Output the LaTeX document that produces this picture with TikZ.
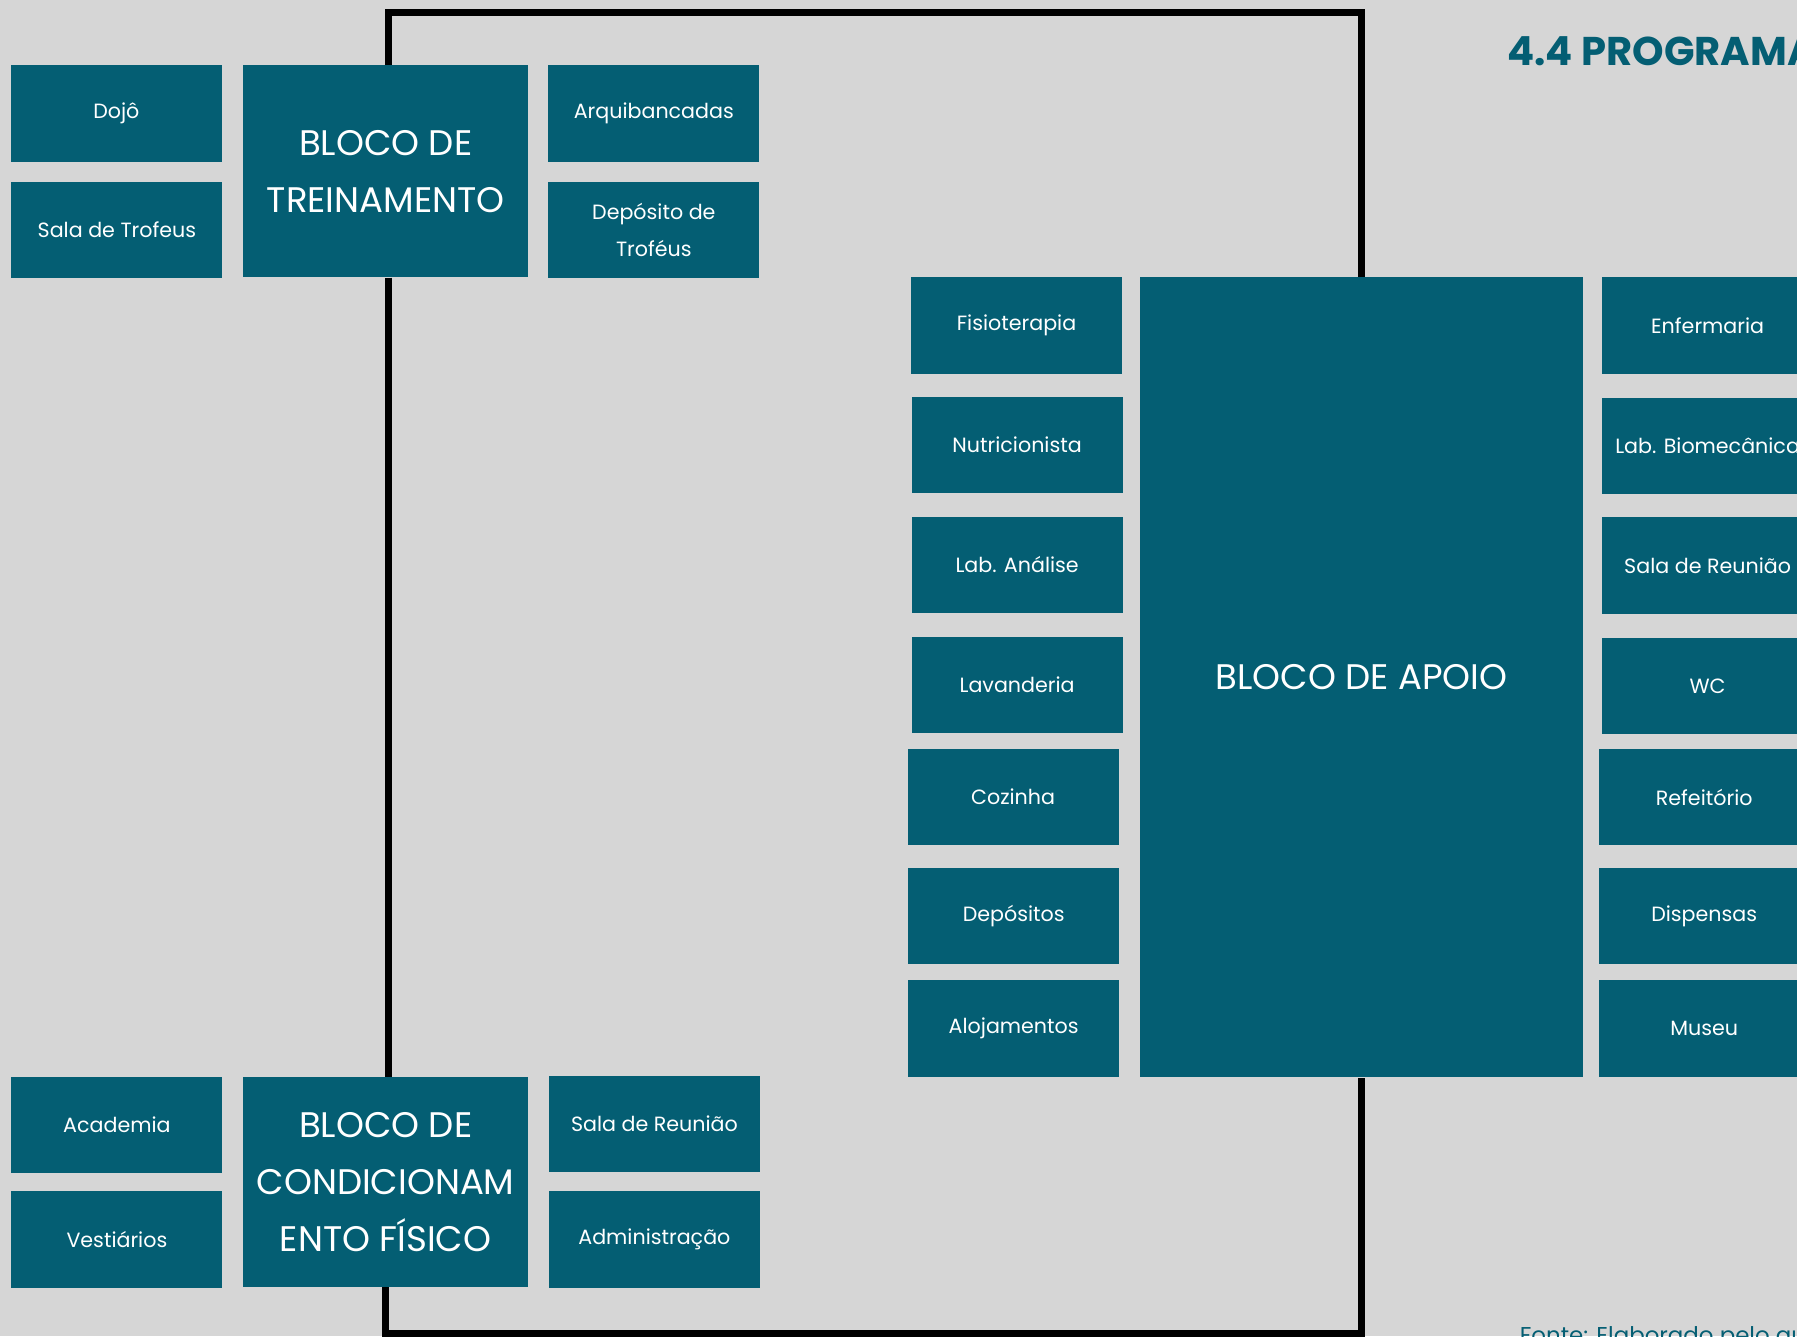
\documentclass[tikz,border=0pt]{standalone}
\usepackage{fontspec}
\setmainfont{Poppins}
\usetikzlibrary{positioning}
\definecolor{petrol}{RGB}{4,94,115}
\definecolor{paper}{RGB}{214,214,214}

\begin{document}
\begin{tikzpicture}[x=1pt,y=-1pt,
  room/.style={fill=petrol,text=white,inner sep=0pt,align=center,
    minimum width=184pt,minimum height=84pt,
    font=\fontsize{18}{32}\selectfont},
  bloco/.style={room,font=\fontsize{31}{50}\selectfont},
  frame/.style={line width=6pt,black}]
  \clip (0,0) rectangle (1568,1166);
  \fill[paper] (0,0) rectangle (1568,1166);
  % the three blocks
  \node[bloco,minimum width=249pt,minimum height=185pt] (treino) at (336.5,149.5) {BLOCO DE\\TREINAMENTO};
  \node[bloco,minimum width=249pt,minimum height=183pt] (condic) at (336.5,1031.5) {BLOCO DE\\CONDICIONAM\\ENTO FÍSICO};
  \node[bloco,minimum width=386pt,minimum height=698pt] (apoio) at (1188,591) {BLOCO DE APOIO};
  \draw[frame] ([xshift=2.5pt]treino.north) -- ++(0,-46) -| (apoio.north);
  \draw[frame] ([xshift=2.5pt]treino.south) -- ([xshift=2.5pt]condic.north);
  \draw[frame] (condic.south) -- ++(0,40) -| (apoio.south);
  % treinamento
  \node[room] (dojo) at (101.5,99) {Dojô};
  \node[room] (trofeus) at (102,200.5) {Sala de Trofeus};
  \node[room] (arquib) at (570.5,99) {Arquibancadas};
  \node[room] (deptrof) at (570.5,200.5) {Depósito de\\Troféus};
  % condicionamento
  \node[room] (academia) at (102,981.5) {Academia};
  \node[room] (vestiarios) at (102,1081.5) {Vestiários};
  \node[room] (reuniao) at (571,980.5) {Sala de Reunião};
  \node[room] (admin) at (571,1081.5) {Administração};
  % apoio
  \node[room] (fisio) at (887,284) {Fisioterapia};
  \node[room] (nutri) at (887.5,388.5) {Nutricionista};
  \node[room] (analise) at (887.5,493) {Lab. Análise};
  \node[room] (lavand) at (887.5,597.5) {Lavanderia};
  \node[room] (cozinha) at (884,695.5) {Cozinha};
  \node[room] (depositos) at (884.5,799.5) {Depósitos};
  \node[room] (aloj) at (884.5,897.5) {Alojamentos};
  \node[room] (enferm) at (1490,284) {Enfermaria};
  \node[room] (biomec) at (1490,389) {Lab. Biomecânica};
  \node[room] (reuniaob) at (1490,493.5) {Sala de Reunião};
  \node[room] (wc) at (1490,598.5) {WC};
  \node[room] (refeit) at (1487,695.5) {Refeitório};
  \node[room] (dispensas) at (1487,799.5) {Dispensas};
  \node[room] (museu) at (1487,897.5) {Museu};
  \node[anchor=base west,text=petrol,inner sep=0pt,font=\fontsize{35}{40}\selectfont\bfseries] (titulo) at (1315,57) {4.4 PROGRAMA};
  \node[anchor=base west,text=petrol,inner sep=0pt,font=\fontsize{20}{24}\selectfont] (fonte) at (1326,1172) {Fonte: Elaborado pelo autor};
\end{tikzpicture}
\end{document}
